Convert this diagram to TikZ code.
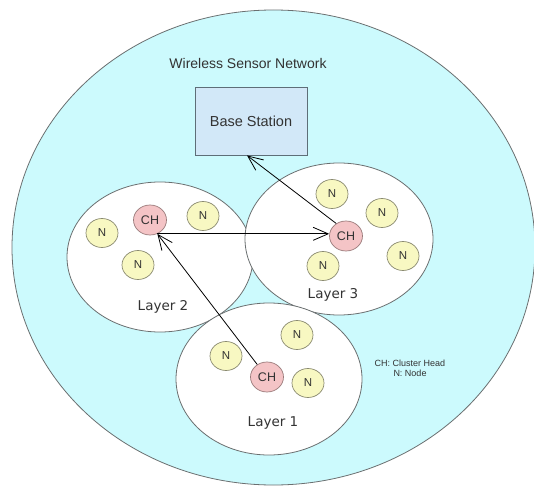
\documentclass[tikz,border=0pt]{standalone}
\usepackage{fontspec}
\setmainfont{Liberation Sans}
\newfontfamily\layerfont{DejaVu Sans}
\usetikzlibrary{shapes.geometric,arrows.meta}
\definecolor{wsnbg}{HTML}{CCFAFD}
\definecolor{edgegray}{HTML}{6A6F70}
\definecolor{chfill}{HTML}{F4C4C6}
\definecolor{chedge}{HTML}{9A7A7A}
\definecolor{nfill}{HTML}{F8F8C2}
\definecolor{nedge}{HTML}{8A8A70}
\definecolor{bsfill}{HTML}{D2E8F8}
\definecolor{bsedge}{HTML}{5E6E78}
\definecolor{txt}{HTML}{333333}
\tikzset{
  region/.style={ellipse, draw=edgegray, line width=0.8pt, fill=white, inner sep=0pt},
  chnode/.style={ellipse, draw=chedge, line width=0.7pt, fill=chfill, minimum width=33pt, minimum height=30pt, inner sep=0pt, text=txt, font=\fontsize{12.5}{14}\selectfont},
  nnode/.style={ellipse, draw=nedge, line width=0.7pt, fill=nfill, minimum width=32pt, minimum height=29pt, inner sep=0pt, text=txt, font=\fontsize{11.5}{13}\selectfont},
  layerlabel/.style={text=txt, font=\layerfont\fontsize{13.5}{15}\selectfont, inner sep=0pt},
  link/.style={line width=0.8pt, black, -{Straight Barb[length=15pt,width=13pt,line width=0.8pt]}},
}
\begin{document}
\begin{tikzpicture}[x=1pt,y=-1pt]
\useasboundingbox (0,0) rectangle (534,486);
% outer network
\node[ellipse, draw=edgegray, line width=0.8pt, fill=wsnbg, minimum width=523pt, minimum height=475pt, inner sep=0pt] (wsn) at (273.5,247.5) {};
\node[text=txt, font=\fontsize{14}{16}\selectfont, inner sep=0pt] (title) at (248,63) {Wireless Sensor Network};
% base station
\node[draw=bsedge, line width=0.8pt, fill=bsfill, minimum width=112pt, minimum height=68pt, inner sep=0pt, text=txt, font=\fontsize{14.5}{16}\selectfont] (bs) at (251,121) {Base Station};
% layers
\node[region, minimum width=186pt, minimum height=150pt] (L2) at (160,257) {};
\node[region, minimum width=188pt, minimum height=152pt] (L3) at (339,239) {};
\node[region, minimum width=186pt, minimum height=152pt] (L1) at (269,379) {};
\node[layerlabel] (l2t) at (163,307) {Layer 2};
\node[layerlabel] (l3t) at (333,295) {Layer 3};
\node[layerlabel] (l1t) at (273,423) {Layer 1};
% layer 2 nodes
\node[chnode] (ch2) at (150,220) {CH};
\node[nnode] (n21) at (102,233) {N};
\node[nnode] (n22) at (203,216) {N};
\node[nnode] (n23) at (138,265) {N};
% layer 3 nodes
\node[chnode] (ch3) at (346,236) {CH};
\node[nnode] (n31) at (332,194) {N};
\node[nnode] (n32) at (382,213) {N};
\node[nnode] (n33) at (403,256) {N};
\node[nnode] (n34) at (323,266) {N};
% layer 1 nodes
\node[chnode] (ch1) at (267,377) {CH};
\node[nnode] (n11) at (226,356) {N};
\node[nnode] (n12) at (297,335) {N};
\node[nnode] (n13) at (308,383) {N};
% legend
\node[text=txt, font=\fontsize{9}{10}\selectfont, align=center, inner sep=0pt] (legend) at (410,368) {CH: Cluster Head\\N: Node};
% links
\coordinate (ch2p) at (ch2.-62);
\draw[link] (ch1.128) -- (ch2p);
\draw[link] (ch2p) -- (ch2p -| ch3.west);
\draw[link] (ch3.128) -- ([xshift=-4pt]bs.south);
\end{tikzpicture}
\end{document}
